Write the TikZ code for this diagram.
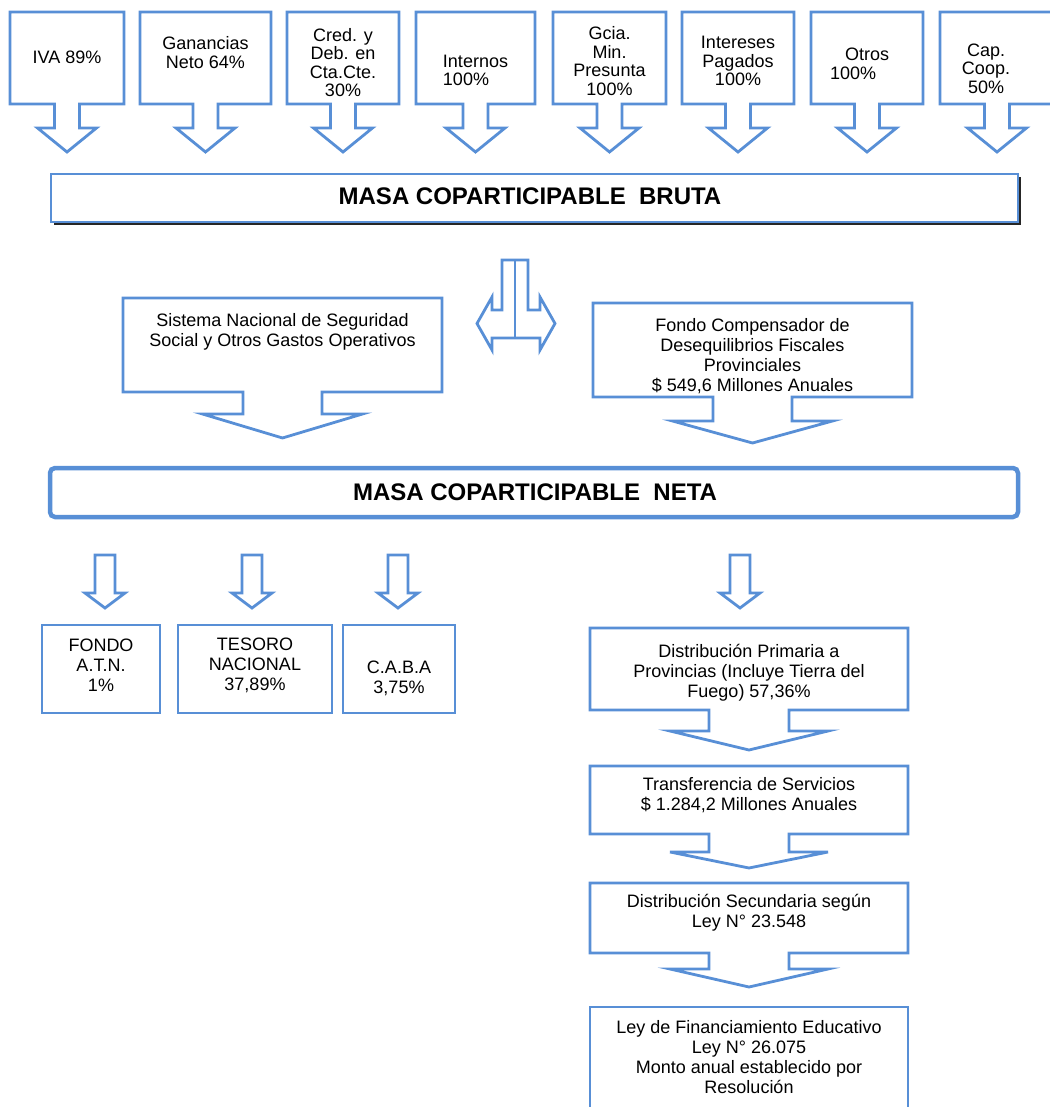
\documentclass[tikz,border=0pt]{standalone}
\usepackage{fontspec}
\setmainfont{Liberation Sans}
\definecolor{boxblue}{RGB}{88,143,214}
\tikzset{
  outline/.style={draw=boxblue, line width=2.8pt, fill=white},
  txt/.style={align=center, inner sep=0pt, font=\fontsize{18}{20}\selectfont},
  toptxt/.style={align=center, inner sep=0pt, font=\fontsize{18}{18.5}\selectfont},
  title/.style={inner sep=0pt, font=\fontsize{24}{28}\selectfont\bfseries}
}
% box with a block arrow under it: left, top, right, bottom, shaft/2, head/2, head top, tip
\newcommand{\downcallout}[8]{%
  \pgfmathsetmacro{\cx}{(#1+#3)/2}
  \draw[outline] (#1,#2) -- (#3,#2) -- (#3,#4) -- (\cx+#5,#4) -- (\cx+#5,#7) -- (\cx+#6,#7)
    -- (\cx,#8) -- (\cx-#6,#7) -- (\cx-#5,#7) -- (\cx-#5,#4) -- (#1,#4) -- cycle;
}
\begin{document}
\begin{tikzpicture}[x=1pt, y=-1pt]
  \useasboundingbox (0,0) rectangle (1049,1107);

  % taxes
  \foreach \l/\r in {10/124, 140/271, 287/399, 416/535, 553/666, 682/794, 811/923, 940/1054}
    \downcallout{\l}{12}{\r}{104}{12.5}{29.5}{128}{152};
  \node[toptxt] (iva) at (67,57) {IVA 89\%};
  \node[toptxt] (gan) at (205.5,52.5) {Ganancias\\Neto 64\%};
  \node[toptxt] (cred) at (343,62.5) {Cred. y\\Deb. en\\Cta.Cte.\\30\%};
  \node[toptxt, align=left] (intern) at (475.5,70.5) {Internos\\100\%};
  \node[toptxt] (gcia) at (609.5,61) {Gcia.\\Min.\\Presunta\\100\%};
  \node[toptxt] (intpag) at (738,61) {Intereses\\Pagados\\100\%};
  \node[toptxt] (otros) at (867,64) {Otros\\\makebox[74pt][l]{100\%}};
  \node[toptxt] (cap) at (986,68.5) {Cap.\\Coop.\\50\%};

  % masa bruta
  \fill[black!85] (54,177) rectangle (1021,225);
  \draw[outline] (51,174) rectangle (1018,222);
  \node[title] (bruta) at (530,196) {MASA COPARTICIPABLE\ \ BRUTA};

  % split arrow
  \draw[outline] (502,260) -- (502,310) -- (492,310) -- (492,297) -- (477,323.5) -- (492,350)
    -- (492,338) -- (540,338) -- (540,350) -- (555,323.5) -- (540,297) -- (540,310)
    -- (528,310) -- (528,260) -- cycle;
  \draw[boxblue, line width=2.8pt] (515,260) -- (515,338);

  \downcallout{123}{298}{442}{392}{39.5}{80}{414}{438};
  \node[txt] (segsoc) at (282.5,331.5) {Sistema Nacional de Seguridad\\Social y Otros Gastos Operativos};
  \downcallout{593}{303}{912}{397}{39.5}{80}{421}{443};
  \node[txt] (fcomp) at (752.5,356.5) {Fondo Compensador de\\Desequilibrios Fiscales\\Provinciales\\\$ 549,6 Millones Anuales};

  % masa neta
  \draw[outline, line width=4.5pt, rounded corners=5pt] (50,468) rectangle (1018,517);
  \node[title] (neta) at (535,492.5) {MASA COPARTICIPABLE\ \ NETA};

  \foreach \cx in {105, 252, 398, 740}
    \draw[outline] (\cx-10,555) -- (\cx+10,555) -- (\cx+10,593) -- (\cx+20,593) -- (\cx,608)
      -- (\cx-20,593) -- (\cx-10,593) -- cycle;

  % destinos
  \draw[outline] (42,625) rectangle (160,713);
  \node[txt] (atn) at (101,665) {FONDO\\A.T.N.\\1\%};
  \draw[outline] (178,625) rectangle (332,713);
  \node[txt] (tesoro) at (255,665) {TESORO\\NACIONAL\\37,89\%};
  \draw[outline] (343,625) rectangle (455,713);
  \node[txt] (caba) at (399,678) {C.A.B.A\\3,75\%};

  \downcallout{590}{628}{908}{710}{40}{79}{731}{750};
  \node[txt] (primaria) at (749,673) {Distribución Primaria a\\Provincias (Incluye Tierra del\\Fuego) 57,36\%};
  \downcallout{590}{766}{908}{834}{40}{79}{852}{868};
  \node[txt] (transf) at (749,795) {Transferencia de Servicios\\\$ 1.284,2 Millones Anuales};
  \downcallout{590}{883}{908}{953}{40}{79}{969}{987};
  \node[txt] (secund) at (749,913) {Distribución Secundaria según\\Ley N° 23.548};
  \draw[outline] (590,1130) -- (590,1007) -- (908,1007) -- (908,1130);
  \node[txt] (educ) at (749,1057) {Ley de Financiamiento Educativo\\Ley N° 26.075\\Monto anual establecido por\\Resolución};
\end{tikzpicture}
\end{document}
